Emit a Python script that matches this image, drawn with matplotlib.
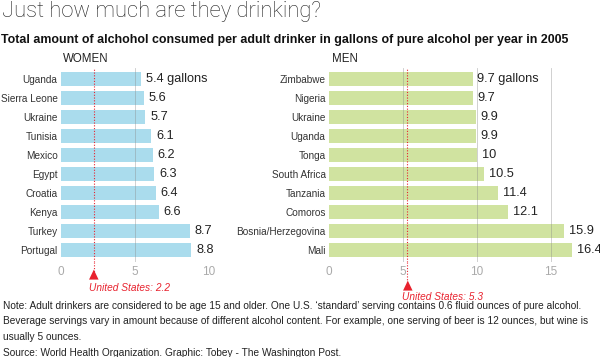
import matplotlib
matplotlib.use("Agg")
import matplotlib.pyplot as plt

paises_mulheres = ["Uganda", "Sierra Leone", "Ukraine", "Tunisia", "Mexico",
                   "Egypt", "Croatia", "Kenya", "Turkey", "Portugal"]
valores_mulheres = [5.4, 5.6, 5.7, 6.1, 6.2, 6.3, 6.4, 6.6, 8.7, 8.8]

paises_homens = ["Zimbabwe", "Nigeria", "Ukraine", "Uganda", "Tonga",
                 "South Africa", "Tanzania", "Comoros", "Bosnia/Herzegovina", "Mali"]
valores_homens = [9.7, 9.7, 9.9, 9.9, 10, 10.5, 11.4, 12.1, 15.9, 16.4]

eua_mulheres = 2.2
eua_homens = 5.3

ticks_mulheres = [0, 5, 10]
ticks_homens = [0, 5, 10, 15]

plt.rcParams["font.family"] = ["Liberation Sans", "DejaVu Sans"]

W, H = 600, 357
VERMELHO = "#e8222e"
ESCALA = 14.8  # px por galao


def px(x, y):
    return x / W, 1 - y / H


def painel(fig, x0, xmax, paises, valores, cor, ticks, titulo, eua, y_tri, y_txt):
    ax = fig.add_axes([x0 / W, (H - 262) / H, xmax * ESCALA / W, 194 / H])
    pos = list(range(len(paises)))
    ax.barh(pos, valores, height=0.75, color=cor, zorder=1)
    ax.set_ylim(9.63, -0.58)
    ax.set_xlim(0, xmax)
    ax.set_yticks(pos)
    ax.set_yticklabels(paises, fontsize=7.2, color="#333333")
    ax.set_xticks(ticks)
    ax.set_xticklabels([str(t) for t in ticks], fontsize=8.5, color="#aaaaaa")
    ax.tick_params(axis="x", length=0, pad=3)
    ax.tick_params(axis="y", length=0, pad=2.5)
    for s in ax.spines.values():
        s.set_visible(False)
    for t in ticks[1:]:
        ax.axvline(t, color="#888888", lw=0.6, alpha=0.45, zorder=2)

    for i, v in enumerate(valores):
        rotulo = f"{v:g} gallons" if i == 0 else f"{v:g}"
        ax.annotate(rotulo, (v, i), xytext=(3.5, 0), textcoords="offset points",
                    va="center", ha="left", fontsize=9.2, color="#222222")

    ax.axvline(eua, color=VERMELHO, lw=0.8, ls=(0, (1, 1.5)), zorder=3)
    ax.set_title(titulo, loc="left", fontsize=8.3, color="#222222", pad=4, x=0.01)

    xe = x0 + eua * ESCALA
    fig.lines.append(plt.Line2D([xe / W, xe / W], [1 - 262 / H, 1 - y_tri / H],
                                transform=fig.transFigure, color=VERMELHO,
                                lw=0.8, ls=(0, (1, 1.5))))
    fig.text(*px(xe, y_tri), "\u25b2", color=VERMELHO, fontsize=9,
             ha="center", va="center", family="DejaVu Sans")
    fig.text(*px(xe - 5, y_txt), f"United States: {eua}", color=VERMELHO,
             fontsize=7.3, style="italic", ha="left", va="center")
    return ax


fig = plt.figure(figsize=(W / 100, H / 100), dpi=100)

fig.text(*px(2, 17.5), "Just how much are they drinking?", fontsize=15.8,
         family=["Roboto", "DejaVu Sans"], weight="light", color="#222222",
         va="baseline", ha="left")
fig.text(*px(1, 43), "Total amount of alchohol consumed per adult drinker in gallons "
         "of pure alcohol per year in 2005", fontsize=8.95, weight="bold",
         color="#111111", va="baseline", ha="left")

painel(fig, 61, 10, paises_mulheres, valores_mulheres, "#aadced",
       ticks_mulheres, "WOMEN", eua_mulheres, 274, 288)
painel(fig, 329, 17, paises_homens, valores_homens, "#d0e3a0",
       ticks_homens, "MEN", eua_homens, 285, 297)

linhas_nota = [
    "Note: Adult drinkers are considered to be age 15 and older. One U.S. \u2018standard\u2019 "
    "serving contains 0.6 fluid ounces of pure alcohol.",
    "Beverage servings vary in amount because of different alcohol content. "
    "For example, one serving of beer is 12 ounces, but wine is",
    "usually 5 ounces.",
    "Source: World Health Organization. Graphic: Tobey - The Washington Post.",
]
for linha, y in zip(linhas_nota, [306, 321, 337, 353]):
    fig.text(*px(3, y), linha, fontsize=7.3, color="#222222", va="center", ha="left")

fig.savefig("out.png", dpi=100)
